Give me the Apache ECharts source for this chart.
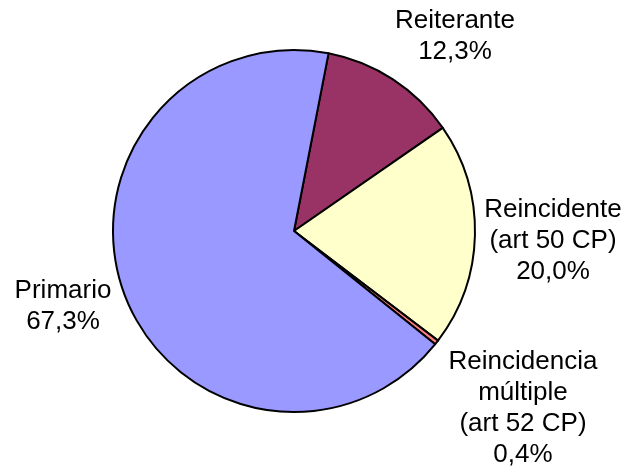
<!DOCTYPE html>
<html>
<head>
<meta charset="utf-8">
<script src="https://cdn.jsdelivr.net/npm/echarts@6/dist/echarts.min.js"></script>
<style>html,body{margin:0;padding:0;background:#fff;}#c{width:633px;height:473px;}</style>
</head>
<body>
<div id="c"></div>
<script>
// Data
var categories = ['Reiterante', 'Reincidente\n(art 50 CP)', 'Reincidencia\nmúltiple\n(art 52 CP)', 'Primario'];
var values = [12.3, 20.0, 0.4, 67.3];

// Styles
var colors = ['#993366', '#FFFFCC', '#FF8080', '#9999FF'];
var labelCenters = [[455, 36], [553, 241], [523, 408], [63, 306]];

var chart = echarts.init(document.getElementById('c'), null, {renderer: 'canvas'});
chart.setOption({
  animation: false,
  backgroundColor: '#ffffff',
  series: [{
    type: 'pie',
    center: [294, 231],
    radius: 181,
    startAngle: 79,
    clockwise: true,
    avoidLabelOverlap: false,
    data: categories.map(function (c, i) {
      return {name: c, value: values[i], itemStyle: {color: colors[i]}};
    }),
    itemStyle: {borderColor: '#000', borderWidth: 2},
    label: {
      show: true,
      position: 'outside',
      formatter: function (p) { return p.name + '\n' + p.value.toFixed(1).replace('.', ',') + '%'; },
      fontFamily: 'Liberation Sans, Arial, sans-serif',
      fontSize: 26,
      lineHeight: 31,
      color: '#000',
      align: 'center'
    },
    labelLine: {show: false},
    labelLayout: function (p) {
      var c = labelCenters[p.dataIndex];
      return {x: c[0], y: c[1], align: 'center', verticalAlign: 'middle'};
    },
    emphasis: {disabled: true}
  }]
});
</script>
</body>
</html>
